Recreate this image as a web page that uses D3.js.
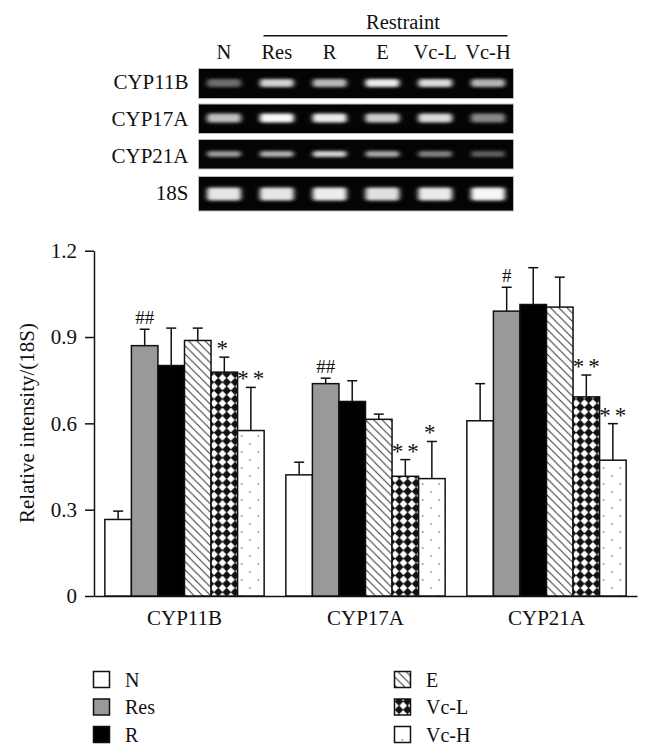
<!DOCTYPE html>
<html>
<head>
<meta charset="utf-8">
<script src="https://cdn.jsdelivr.net/npm/d3@7"></script>
<style>
  html, body { margin: 0; padding: 0; background: #fff; }
  svg { display: block; }
  text { font-family: "Liberation Serif", "Times New Roman", serif; fill: #111; }
</style>
</head>
<body>
<svg id="chart" width="650" height="756"></svg>
<script>
// ---------------- data ----------------
const genes = ["CYP11B", "CYP17A", "CYP21A"];
const groups = ["N", "Res", "R", "E", "Vc-L", "Vc-H"];
const meanCYP11B = [0.266, 0.870, 0.801, 0.888, 0.778, 0.575];
const errCYP11B  = [0.029, 0.057, 0.130, 0.043, 0.052, 0.150];
const meanCYP17A = [0.421, 0.738, 0.676, 0.614, 0.416, 0.408];
const errCYP17A  = [0.044, 0.019, 0.072, 0.018, 0.058, 0.129];
const meanCYP21A = [0.609, 0.990, 1.013, 1.004, 0.692, 0.472];
const errCYP21A  = [0.129, 0.083, 0.128, 0.104, 0.076, 0.127];
const sigCYP11B = ["", "##", "", "", "*", "**"];
const sigCYP17A = ["", "##", "", "", "**", "*"];
const sigCYP21A = ["", "#", "", "", "**", "**"];
const yTicks = [0, 0.3, 0.6, 0.9, 1.2];
const yTickLabels = ["0", "0.3", "0.6", "0.9", "1.2"];
const yLabel = "Relative intensity/(18S)";

// gel image (band brightness per lane)
const gelRows = ["CYP11B", "CYP17A", "CYP21A", "18S"];
const band11B = [0.42, 0.82, 0.72, 0.92, 0.85, 0.70];
const band17A = [0.75, 0.98, 0.92, 0.80, 0.85, 0.52];
const band21A = [0.60, 0.68, 0.82, 0.65, 0.50, 0.36];
const band18S = [0.90, 0.90, 0.93, 0.88, 0.92, 0.97];
const gelHeader = "Restraint";

const means = [meanCYP11B, meanCYP17A, meanCYP21A];
const errs = [errCYP11B, errCYP17A, errCYP21A];
const sigs = [sigCYP11B, sigCYP17A, sigCYP21A];
const bands = [band11B, band17A, band21A, band18S];

const table = genes.map((g, gi) => ({
  gene: g,
  values: groups.map((k, ki) => ({ key: k, value: means[gi][ki], err: errs[gi][ki], sig: sigs[gi][ki] }))
}));

const svg = d3.select("#chart");
const defs = svg.append("defs");

// ---------- patterns ----------
const pE = defs.append("pattern").attr("id", "patE").attr("patternUnits", "userSpaceOnUse")
  .attr("width", 8.3).attr("height", 8.3);
pE.append("rect").attr("width", 8.3).attr("height", 8.3).attr("fill", "#fff");
pE.append("path").attr("d", "M-1,-1 L9.3,9.3 M-1,7.3 L1,9.3 M7.3,-1 L9.3,1")
  .attr("stroke", "#333").attr("stroke-width", 1);

const pL = defs.append("pattern").attr("id", "patL").attr("patternUnits", "userSpaceOnUse")
  .attr("width", 8.4).attr("height", 8.4);
pL.append("rect").attr("width", 8.4).attr("height", 8.4).attr("fill", "#fff");
pL.append("path").attr("d", "M4.2,-0.3 L8.7,4.2 L4.2,8.7 L-0.3,4.2 Z").attr("fill", "#111");

const pH = defs.append("pattern").attr("id", "patH").attr("patternUnits", "userSpaceOnUse")
  .attr("width", 16.6).attr("height", 16);
pH.append("rect").attr("width", 16.6).attr("height", 16).attr("fill", "#fff");
pH.append("circle").attr("cx", 4).attr("cy", 4).attr("r", 0.75).attr("fill", "#444");
pH.append("circle").attr("cx", 12.3).attr("cy", 12).attr("r", 0.75).attr("fill", "#444");

const fills = { "N": "#fff", "Res": "#999", "R": "#000", "E": "url(#patE)", "Vc-L": "url(#patL)", "Vc-H": "url(#patH)" };

const blur = defs.append("filter").attr("id", "blur").attr("x", "-50%").attr("y", "-100%")
  .attr("width", "200%").attr("height", "300%");
blur.append("feGaussianBlur").attr("stdDeviation", "2.4 1.8");

// ---------- gel ----------
const gelLeft = 198.5, gelRight = 513.5;
const rowTop = [68.5, 104, 139.5, 176.5];
const rowBottom = [98.5, 133.5, 169, 211];
const bandH = [8, 9, 6, 13];
const bandCY = [83, 118, 154, 194];
const lane = d3.scalePoint().domain(groups).range([224, 488]);

const gel = svg.append("g");
gelRows.forEach((r, ri) => {
  gel.append("rect").attr("x", gelLeft).attr("y", rowTop[ri])
    .attr("width", gelRight - gelLeft).attr("height", rowBottom[ri] - rowTop[ri])
    .attr("fill", "#040404").attr("stroke", "#bbb").attr("stroke-width", 1);
  gel.selectAll(null).data(bands[ri]).enter().append("rect")
    .attr("x", (d, i) => lane(groups[i]) - 17)
    .attr("y", bandCY[ri] - bandH[ri] / 2)
    .attr("width", 34).attr("height", bandH[ri]).attr("rx", 3)
    .attr("fill", "#fff").attr("fill-opacity", d => d)
    .attr("filter", "url(#blur)");
  gel.append("text").attr("x", 188.5).attr("y", [89.3, 126, 163.3, 200][ri])
    .attr("text-anchor", "end").attr("font-size", 21).text(r);
});
gel.selectAll(null).data(groups).enter().append("text")
  .attr("x", d => lane(d)).attr("y", 58.5).attr("text-anchor", "middle")
  .attr("font-size", 20.5).text(d => d);
gel.append("line").attr("x1", 263.5).attr("x2", 507.5).attr("y1", 35.7).attr("y2", 35.7)
  .attr("stroke", "#111").attr("stroke-width", 1.5);
gel.append("text").attr("x", 403).attr("y", 28.5).attr("text-anchor", "middle")
  .attr("font-size", 20.5).text(gelHeader);

// ---------- bar chart ----------
const y = d3.scaleLinear().domain([0, 1.2]).range([596, 250.7]);
const x0 = d3.scaleBand().domain(genes).range([94, 637]).paddingInner(0.12).paddingOuter(0.06);
const x1 = d3.scaleBand().domain(groups).range([0, x0.bandwidth()]).padding(0);

const yAxis = d3.axisLeft(y).tickValues(yTicks)
  .tickFormat((d, i) => yTickLabels[i]).tickSize(9).tickSizeOuter(0).tickPadding(8);
const gy = svg.append("g").attr("transform", "translate(94,0)").call(yAxis);
gy.attr("font-family", null);
gy.select(".domain").attr("stroke", "#111").attr("stroke-width", 1.5);
gy.selectAll(".tick line").attr("stroke", "#111").attr("stroke-width", 1.5);
gy.selectAll(".tick text").attr("font-size", 21).attr("fill", "#111");

const xAxis = d3.axisBottom(x0).tickSize(0).tickSizeOuter(0).tickPadding(0);
const gx = svg.append("g").attr("transform", "translate(0,596)").call(xAxis);
gx.attr("font-family", null);
gx.select(".domain").attr("stroke", "#111").attr("stroke-width", 1.5);
gx.selectAll(".tick text").attr("font-size", 21).attr("fill", "#111").attr("y", 29).attr("dy", 0);

const gG = svg.selectAll(".grp").data(table).enter().append("g")
  .attr("class", "grp").attr("transform", d => `translate(${x0(d.gene)},0)`);

const bar = gG.selectAll(".b").data(d => d.values).enter().append("g").attr("class", "b");

// error bars
bar.append("line")
  .attr("x1", d => x1(d.key) + x1.bandwidth() / 2).attr("x2", d => x1(d.key) + x1.bandwidth() / 2)
  .attr("y1", d => y(d.value)).attr("y2", d => y(d.value + d.err))
  .attr("stroke", "#111").attr("stroke-width", 1.5);
bar.append("line")
  .attr("x1", d => x1(d.key) + x1.bandwidth() / 2 - 5).attr("x2", d => x1(d.key) + x1.bandwidth() / 2 + 5)
  .attr("y1", d => y(d.value + d.err)).attr("y2", d => y(d.value + d.err))
  .attr("stroke", "#111").attr("stroke-width", 1.5);

bar.append("rect")
  .attr("x", d => x1(d.key)).attr("width", x1.bandwidth())
  .attr("y", d => y(d.value)).attr("height", d => y(0) - y(d.value))
  .attr("fill", d => fills[d.key]).attr("stroke", "#111").attr("stroke-width", 1.5);

bar.filter(d => d.sig).append("text")
  .attr("x", d => x1(d.key) + x1.bandwidth() / 2 + (d.sig[0] === "*" && d.sig.length > 1 ? 2 : 0))
  .attr("y", d => y(d.value + d.err) - (d.sig[0] === "#" ? 5.5 : 1))
  .attr("text-anchor", "middle")
  .attr("font-size", d => d.sig[0] === "#" ? 19 : 23)
  .attr("letter-spacing", d => d.sig[0] === "*" ? 4 : 0)
  .text(d => d.sig);

// y label
svg.append("text").attr("transform", "translate(34,423) rotate(-90)")
  .attr("text-anchor", "middle").attr("font-size", 21).text(yLabel);

// ---------- legend ----------
const legX = [93.5, 394.5];
const legY = [671.5, 699, 726.5];
const leg = svg.append("g");
groups.forEach((k, i) => {
  const col = Math.floor(i / 3), row = i % 3;
  leg.append("rect").attr("x", legX[col]).attr("y", legY[row]).attr("width", 16).attr("height", 16)
    .attr("fill", fills[k]).attr("stroke", "#111").attr("stroke-width", 1.5);
  leg.append("text").attr("x", legX[col] + 31.5).attr("y", legY[row] + 15)
    .attr("font-size", 20).text(k);
});
</script>
</body>
</html>
